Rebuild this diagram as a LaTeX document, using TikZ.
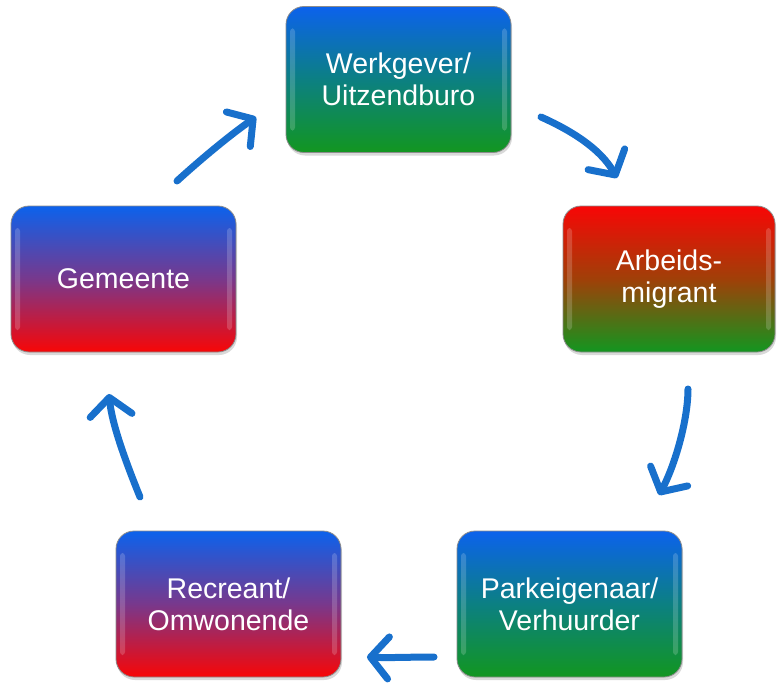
\documentclass[tikz,border=0pt]{standalone}
\usepackage{fontspec}
\setmainfont{Liberation Sans}
\usetikzlibrary{arrows.meta,shadows,calc}
\definecolor{cblue}{RGB}{12,98,236}
\definecolor{cgreen}{RGB}{18,150,32}
\definecolor{cred}{RGB}{248,6,6}
\definecolor{cteal}{RGB}{12,128,130}
\definecolor{cpurple}{RGB}{120,56,140}
\definecolor{cbrown}{RGB}{160,64,8}
\definecolor{arrblue}{RGB}{24,112,204}
\tikzset{
  card/.style={rounded corners=18pt, minimum width=225pt, minimum height=146pt,
    draw=black!45, line width=0.8pt, text=white, align=center,
    font=\fontsize{28.5}{32}\selectfont,
    drop shadow={opacity=0.3, shadow xshift=1pt, shadow yshift=-3pt},
    path picture={
      \fill[white,opacity=0.18,rounded corners=3pt]
        ([xshift=4pt,yshift=-22pt]path picture bounding box.north west) rectangle
        ([xshift=9pt,yshift=22pt]path picture bounding box.south west);
      \fill[white,opacity=0.18,rounded corners=3pt]
        ([xshift=-4pt,yshift=-22pt]path picture bounding box.north east) rectangle
        ([xshift=-9pt,yshift=22pt]path picture bounding box.south east);
    }},
  bluegreen/.style={card, top color=cblue, bottom color=cgreen, middle color=cteal},
  bluered/.style={card, top color=cblue, bottom color=cred, middle color=cpurple},
  redgreen/.style={card, top color=cred, bottom color=cgreen, middle color=cbrown},
  flow/.style={draw=arrblue, line width=7pt, line cap=round,
    -{Straight Barb[length=18pt, width=42pt, line cap=round, line join=round]}}
}
\begin{document}
\begin{tikzpicture}[x=1pt,y=-1pt]
\useasboundingbox (0,0) rectangle (777,685);
\node[bluegreen] (W) at (398.5,79.5) {Werkgever/\\Uitzendburo};
\node[redgreen, minimum width=212pt] (A) at (669,279) {Arbeids-\\migrant};
\node[bluered] (G) at (123.5,279) {Gemeente};
\node[bluegreen] (P) at (569.5,604) {Parkeigenaar/\\Verhuurder};
\node[bluered] (R) at (228.5,604) {Recreant/\\Omwonende};

\coordinate (g1) at (177,181);
\coordinate (w1) at (256,117);
\coordinate (w2) at (541,117);
\coordinate (a1) at (617,178);
\coordinate (a2) at (688,389);
\coordinate (p1) at (659,495);
\coordinate (p2) at (434,657);
\coordinate (r1) at (367,657);
\coordinate (r2) at (140,497);
\coordinate (g2) at (109,394);

\draw[flow] (g1) .. controls (200,160) and (230,135) .. (w1);
\draw[flow] (w2) .. controls (570,130) and (600,148) .. (a1);
\draw[flow] (a2) .. controls (688,420) and (675,465) .. (p1);
\draw[flow] (p2) .. controls (410,657) and (390,658) .. (r1);
\draw[flow] (r2) .. controls (127,465) and (112,425) .. (g2);
\end{tikzpicture}
\end{document}
